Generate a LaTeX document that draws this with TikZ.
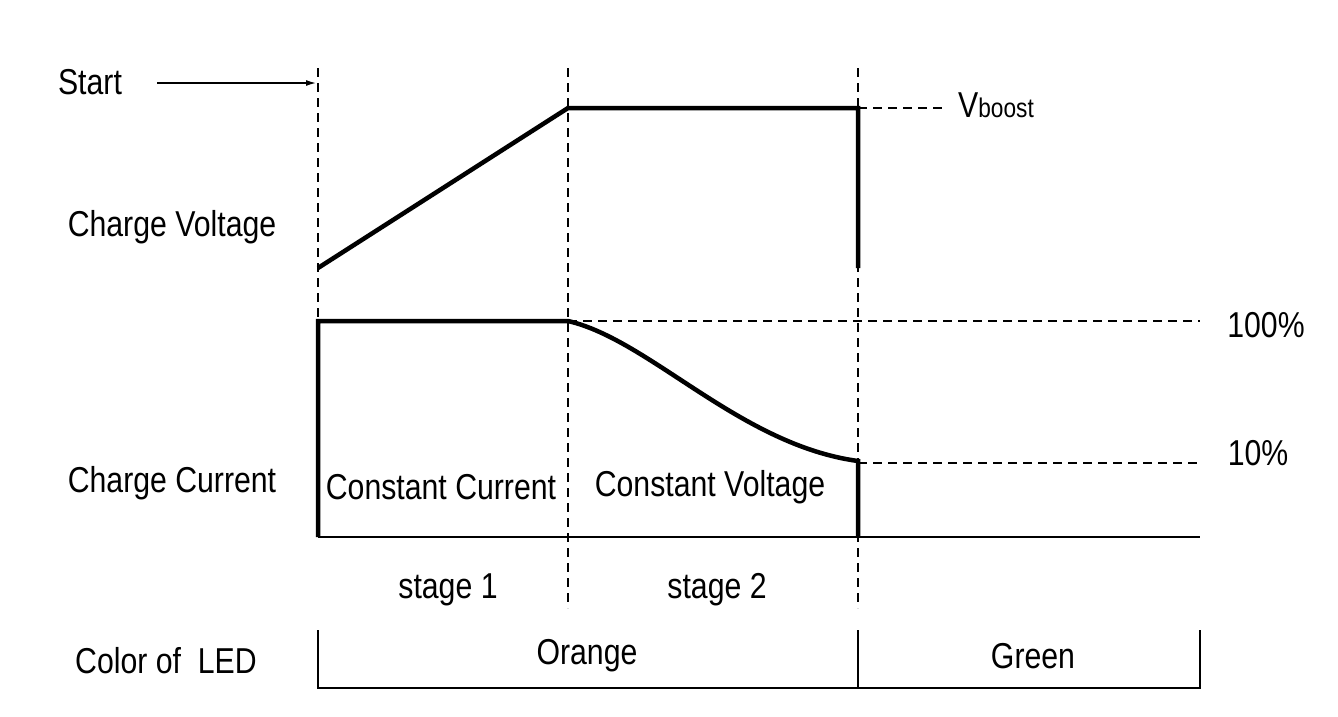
\documentclass[tikz,border=0pt]{standalone}
\usepackage{fontspec}
\usetikzlibrary{arrows.meta}
\setmainfont{Liberation Sans}
\newcommand\cz[1]{\scalebox{0.84}[1]{#1}}
\begin{document}
\begin{tikzpicture}[x=1pt,y=-1pt,
  lbl/.style={font=\fontsize{36}{40}\selectfont,inner sep=0pt},
  dsh/.style={dashed,dash pattern=on 9pt off 6pt,line width=1.1pt},
  thick curve/.style={line width=4.5pt},
  thin line/.style={line width=1.3pt}]
\useasboundingbox (0,0) rectangle (1338,716);
\node[lbl] (start) at (90,82) {\cz{Start}};
\coordinate (sa) at (157,83);
\coordinate (sb) at (316,83);
\draw[thin line,-{Latex[length=10pt,width=6pt]}] (sa) -- (sb);
% dashed verticals
\coordinate (t1) at (318,68); \coordinate (b1) at (318,320);
\coordinate (t2) at (568,68); \coordinate (b2) at (568,608);
\coordinate (t3) at (858,68); \coordinate (b3) at (858,608);
\draw[dsh] (t1) -- (b1);
\draw[dsh] (t2) -- (b2);
\draw[dsh] (t3) -- (b3);
% voltage
\coordinate (v0) at (318,268); \coordinate (v1) at (568,108);
\coordinate (v2) at (858,108); \coordinate (v3) at (858,268);
\draw[thick curve,line join=miter] (v0) -- (v1) -- (v2) -- (v3);
\coordinate (vb) at (945,108);
\draw[dsh] (v2) -- (vb);
\node[lbl,anchor=west] (vboost) at (958,105) {\cz{V\fontsize{27}{30}\selectfont boost}};
% current
\coordinate (c0) at (318,537); \coordinate (c1) at (318,321);
\coordinate (c2) at (568,321); \coordinate (c3) at (858,461);
\coordinate (c4) at (858,537);
\draw[thick curve,line join=miter] (c0) -- (c1) -- (c2) .. controls (650,340) and (740,445) .. (c3) -- (c4);
\coordinate (h1) at (1200,321); \coordinate (h2) at (1200,463);
\coordinate (h0) at (858,463);
\draw[dsh] (c2) -- (h1);
\draw[dsh] (h0) -- (h2);
\node[lbl] (p100) at (1266,325) {\cz{100\%}};
\node[lbl] (p10) at (1258,453) {\cz{10\%}};
\coordinate (base) at (1200,537);
\draw[thin line] (c0) -- (base);
% labels
\node[lbl] (cv) at (172,227) {\cz{Charge Voltage}};
\node[lbl] (cc) at (172,483) {\cz{Charge Current}};
\node[lbl] (ccur) at (441,487) {\cz{Constant Current}};
\node[lbl] (cvol) at (710,487) {\cz{Constant Voltage}};
\node[lbl] (s1) at (448,590) {\cz{stage 1}};
\node[lbl] (s2) at (717,590) {\cz{stage 2}};
\node[lbl] (led) at (166,661) {\cz{Color of\ \ LED}};
\node[lbl] (or) at (587,656) {\cz{Orange}};
\node[lbl] (gr) at (1033,656) {\cz{Green}};
% LED box
\coordinate (l1) at (318,630); \coordinate (l1b) at (318,688);
\coordinate (l2) at (858,630); \coordinate (l2b) at (858,688);
\coordinate (l3) at (1200,630); \coordinate (l3b) at (1200,688);
\draw[thin line] (l1) -- (l1b) -- (l3b) -- (l3);
\draw[thin line] (l2) -- (l2b);
\end{tikzpicture}
\end{document}
